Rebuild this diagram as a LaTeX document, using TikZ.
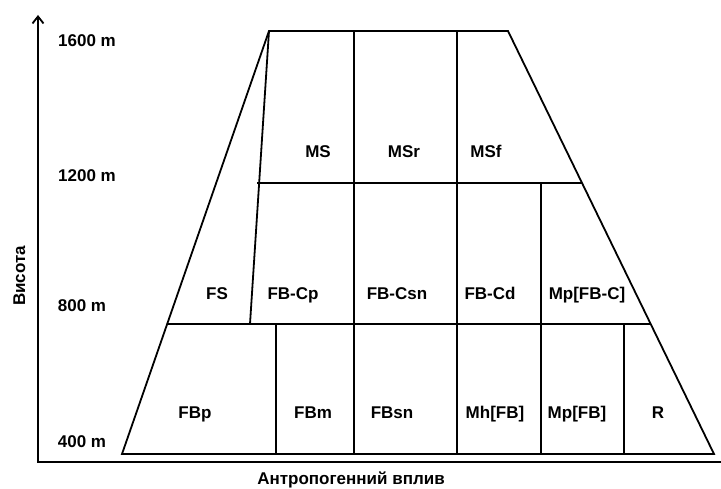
\documentclass[tikz,border=0pt]{standalone}
\usepackage{fontspec}
\setmainfont{Liberation Sans}
\usetikzlibrary{arrows.meta}
\begin{document}
\begin{tikzpicture}[x=1pt,y=-1pt,line width=1.8pt,line join=miter,
  lbl/.style={font=\fontsize{17}{20}\selectfont\bfseries,inner sep=0pt,anchor=base}]
\useasboundingbox (0,0) rectangle (721,489);
% corners of the trapezoid
\coordinate (TL) at (269,31);
\coordinate (TR) at (508,31);
\coordinate (BL) at (122,454);
\coordinate (BR) at (714,454);
\draw (TL) -- (TR) -- (BR) -- (BL) -- cycle;
% inner slanted line
\coordinate (IS) at (250,324);
\draw (TL) -- (IS);
% horizontal dividers
\coordinate (H1a) at (257,183);
\coordinate (H1b) at (582,183);
\coordinate (H2a) at (167,324);
\coordinate (H2b) at (651,324);
\draw (H1a) -- (H1b);
\draw (H2a) -- (H2b);
% vertical dividers
\coordinate (V1t) at (354,31);  \coordinate (V1b) at (354,454);
\coordinate (V2t) at (457,31);  \coordinate (V2b) at (457,454);
\coordinate (V3t) at (541,183); \coordinate (V3b) at (541,454);
\coordinate (V4t) at (276,324); \coordinate (V4b) at (276,454);
\coordinate (V5t) at (624,324); \coordinate (V5b) at (624,454);
\draw (V1t) -- (V1b);
\draw (V2t) -- (V2b);
\draw (V3t) -- (V3b);
\draw (V4t) -- (V4b);
\draw (V5t) -- (V5b);
% axes
\coordinate (O) at (38,462);
\coordinate (Xe) at (721,462);
\coordinate (Ye) at (38,15);
\draw[-{Straight Barb[length=7pt,width=11pt]}] (Xe) -- (O) -- (Ye);
% axis labels
\node[lbl] (l1600) at (87,47) {1600 m};
\node[lbl] (l1200) at (87,182) {1200 m};
\node[lbl] (l800) at (82,312) {800 m};
\node[lbl] (l400) at (82,447) {400 m};
\node[lbl,rotate=90] (ylab) at (25,276) {Висота};
\node[lbl] (xlab) at (351,484) {Антропогенний вплив};
% cell labels
\node[lbl] (MS) at (318,158) {MS};
\node[lbl] (MSr) at (404,158) {MSr};
\node[lbl] (MSf) at (486,158) {MSf};
\node[lbl] (FS) at (217,300) {FS};
\node[lbl] (FBCp) at (293,300) {FB-Cp};
\node[lbl] (FBCsn) at (397,300) {FB-Csn};
\node[lbl] (FBCd) at (490,300) {FB-Cd};
\node[lbl] (MpFBC) at (587,300) {Mp[FB-C]};
\node[lbl] (FBp) at (195,418) {FBp};
\node[lbl] (FBm) at (313,418) {FBm};
\node[lbl] (FBsn) at (392,418) {FBsn};
\node[lbl] (MhFB) at (495,418) {Mh[FB]};
\node[lbl] (MpFB) at (577,418) {Mp[FB]};
\node[lbl] (R) at (658,418) {R};
\end{tikzpicture}
\end{document}
